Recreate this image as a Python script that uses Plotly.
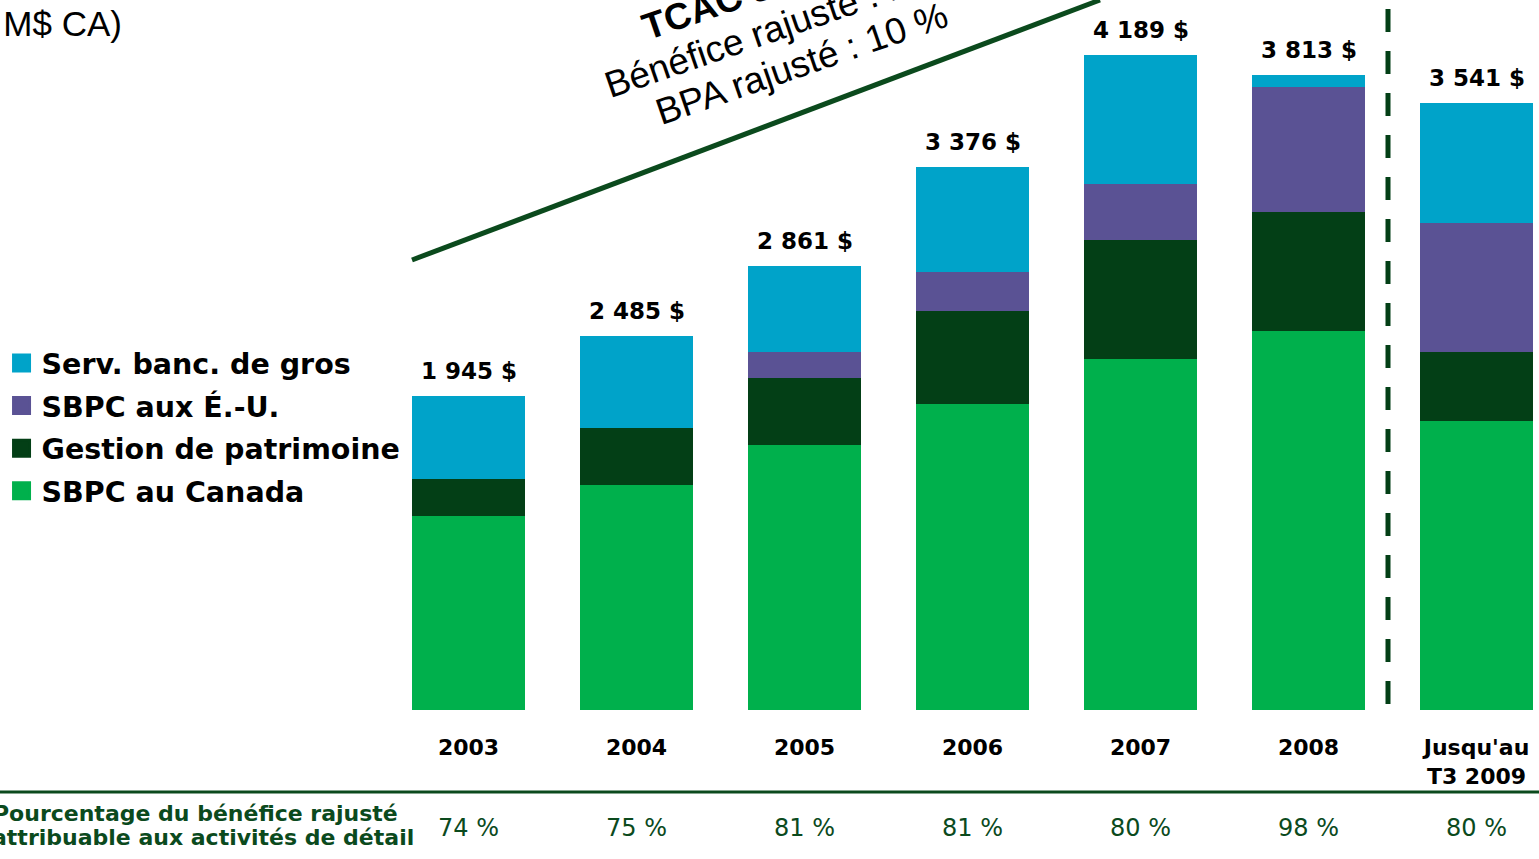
import plotly.graph_objects as go

# ---------------- data ----------------
categories = ["2003", "2004", "2005", "2006", "2007", "2008", "Jusqu'au<br>T3 2009"]
sbpc_canada = [1206, 1399, 1648, 1903, 2183, 2357, 1797]
gestion_patrimoine = [230, 354, 417, 578, 740, 740, 429]
sbpc_eu = [0, 0, 162, 243, 348, 777, 802]
serv_banc_gros = [516, 572, 535, 653, 802, 75, 746]
totals = ["1 945 $", "2 485 $", "2 861 $", "3 376 $", "4 189 $", "3 813 $", "3 541 $"]
pct_retail = ["74 %", "75 %", "81 %", "81 %", "80 %", "98 %", "80 %"]

series = [
    ("SBPC au Canada", sbpc_canada, "#00B04C"),
    ("Gestion de patrimoine", gestion_patrimoine, "#033F16"),
    ("SBPC aux É.-U.", sbpc_eu, "#5A5294"),
    ("Serv. banc. de gros", serv_banc_gros, "#00A3C9"),
]

W, H = 1539, 859
PLOT_H = 710  # plot area height in px (top margin 0)
Y_MAX = 4415

def px(xp):
    return xp / W

def py(yp):
    return (PLOT_H - yp) / PLOT_H

LINE_GREEN = "#0B4A1D"
BOLD = "DejaVu Sans"

fig = go.Figure()
for name, vals, col in series:
    fig.add_trace(go.Bar(
        x=categories, y=vals, name=name, marker=dict(color=col, line=dict(width=0)),
        showlegend=False,
    ))
# legend entries (square markers), top of stack first
for name, vals, col in reversed(series):
    fig.add_trace(go.Scatter(
        x=[None], y=[None], mode="markers", name=name, legendgroup=name,
        marker=dict(symbol="square", size=16, color=col, line=dict(color=col, width=3)),
    ))

annotations = []
stack_tops = [sum(v) for v in zip(sbpc_canada, gestion_patrimoine, sbpc_eu, serv_banc_gros)]
for i, (top, t) in enumerate(zip(stack_tops, totals)):
    annotations.append(dict(x=i, y=top, text=t, showarrow=False,
                            yanchor="middle", yshift=25,
                            font=dict(family=BOLD, size=23, color="black", weight="bold")))
for i, p in enumerate(pct_retail):
    annotations.append(dict(x=i, xref="x", y=py(828), yref="paper", text=p, showarrow=False,
                            yanchor="middle", font=dict(family="DejaVu Sans", size=24, color=LINE_GREEN)))

annotations.append(dict(x=px(400), y=py(813), xref="paper", yref="paper", xanchor="right", yanchor="middle",
                        text="Pourcentage du bénéfice rajusté", showarrow=False,
                        font=dict(family=BOLD, size=22, color=LINE_GREEN, weight="bold")))
annotations.append(dict(x=px(416), y=py(837), xref="paper", yref="paper", xanchor="right", yanchor="middle",
                        text="attribuable aux activités de détail", showarrow=False,
                        font=dict(family=BOLD, size=22, color=LINE_GREEN, weight="bold")))

annotations.append(dict(x=px(124), y=py(24), xref="paper", yref="paper", xanchor="right", yanchor="middle",
                        text="(en M$ CA)", showarrow=False,
                        font=dict(family="Liberation Sans", size=35, color="black")))

# rotated CAGR text, one annotation per line
cagr_lines = [
    ("<b>TCAC sur 5 ans</b>", 774, -17),
    ("Bénéfice rajusté : 13 %", 786, 25),
    ("BPA rajusté : 10 %", 802, 64),
]
for txt, cx, cy in cagr_lines:
    annotations.append(dict(x=px(cx), y=py(cy), xref="paper", yref="paper", xanchor="center", yanchor="middle",
                            text=txt, textangle=-19, showarrow=False,
                            font=dict(family="Liberation Sans", size=37, color="black")))

shapes = [
    dict(type="line", xref="paper", yref="paper", x0=px(412), y0=py(260), x1=px(1100), y1=py(0),
         line=dict(color=LINE_GREEN, width=5)),
    dict(type="line", xref="paper", yref="paper", x0=px(1388), y0=py(9), x1=px(1388), y1=py(706),
         line=dict(color="#033F16", width=5, dash="23px,19px")),
    dict(type="line", xref="paper", yref="paper", x0=0, y0=py(792), x1=1, y1=py(792),
         line=dict(color=LINE_GREEN, width=3)),
]

fig.update_layout(
    width=W, height=H,
    barmode="stack", bargap=0.327,
    plot_bgcolor="white", paper_bgcolor="white",
    margin=dict(l=0, r=0, t=0, b=H - PLOT_H, pad=0),
    xaxis=dict(type="category", range=[-2.789, 6.372], showgrid=False, zeroline=False, showline=False,
               ticks="outside", ticklen=18, tickcolor="rgba(0,0,0,0)",
               tickfont=dict(family=BOLD, size=22, color="black", weight="bold")),
    yaxis=dict(range=[0, Y_MAX], visible=False, showgrid=False),
    showlegend=True,
    legend=dict(x=0.001, y=py(338), xanchor="left", yanchor="top", traceorder="grouped",
                tracegroupgap=2.5, bgcolor="rgba(0,0,0,0)",
                font=dict(family=BOLD, size=28.5, color="black", weight="bold")),
    annotations=annotations, shapes=shapes,
)

fig.write_html("out.html", config={"displayModeBar": False},
               post_script="document.body.style.margin='0';document.body.style.overflow='hidden';")
